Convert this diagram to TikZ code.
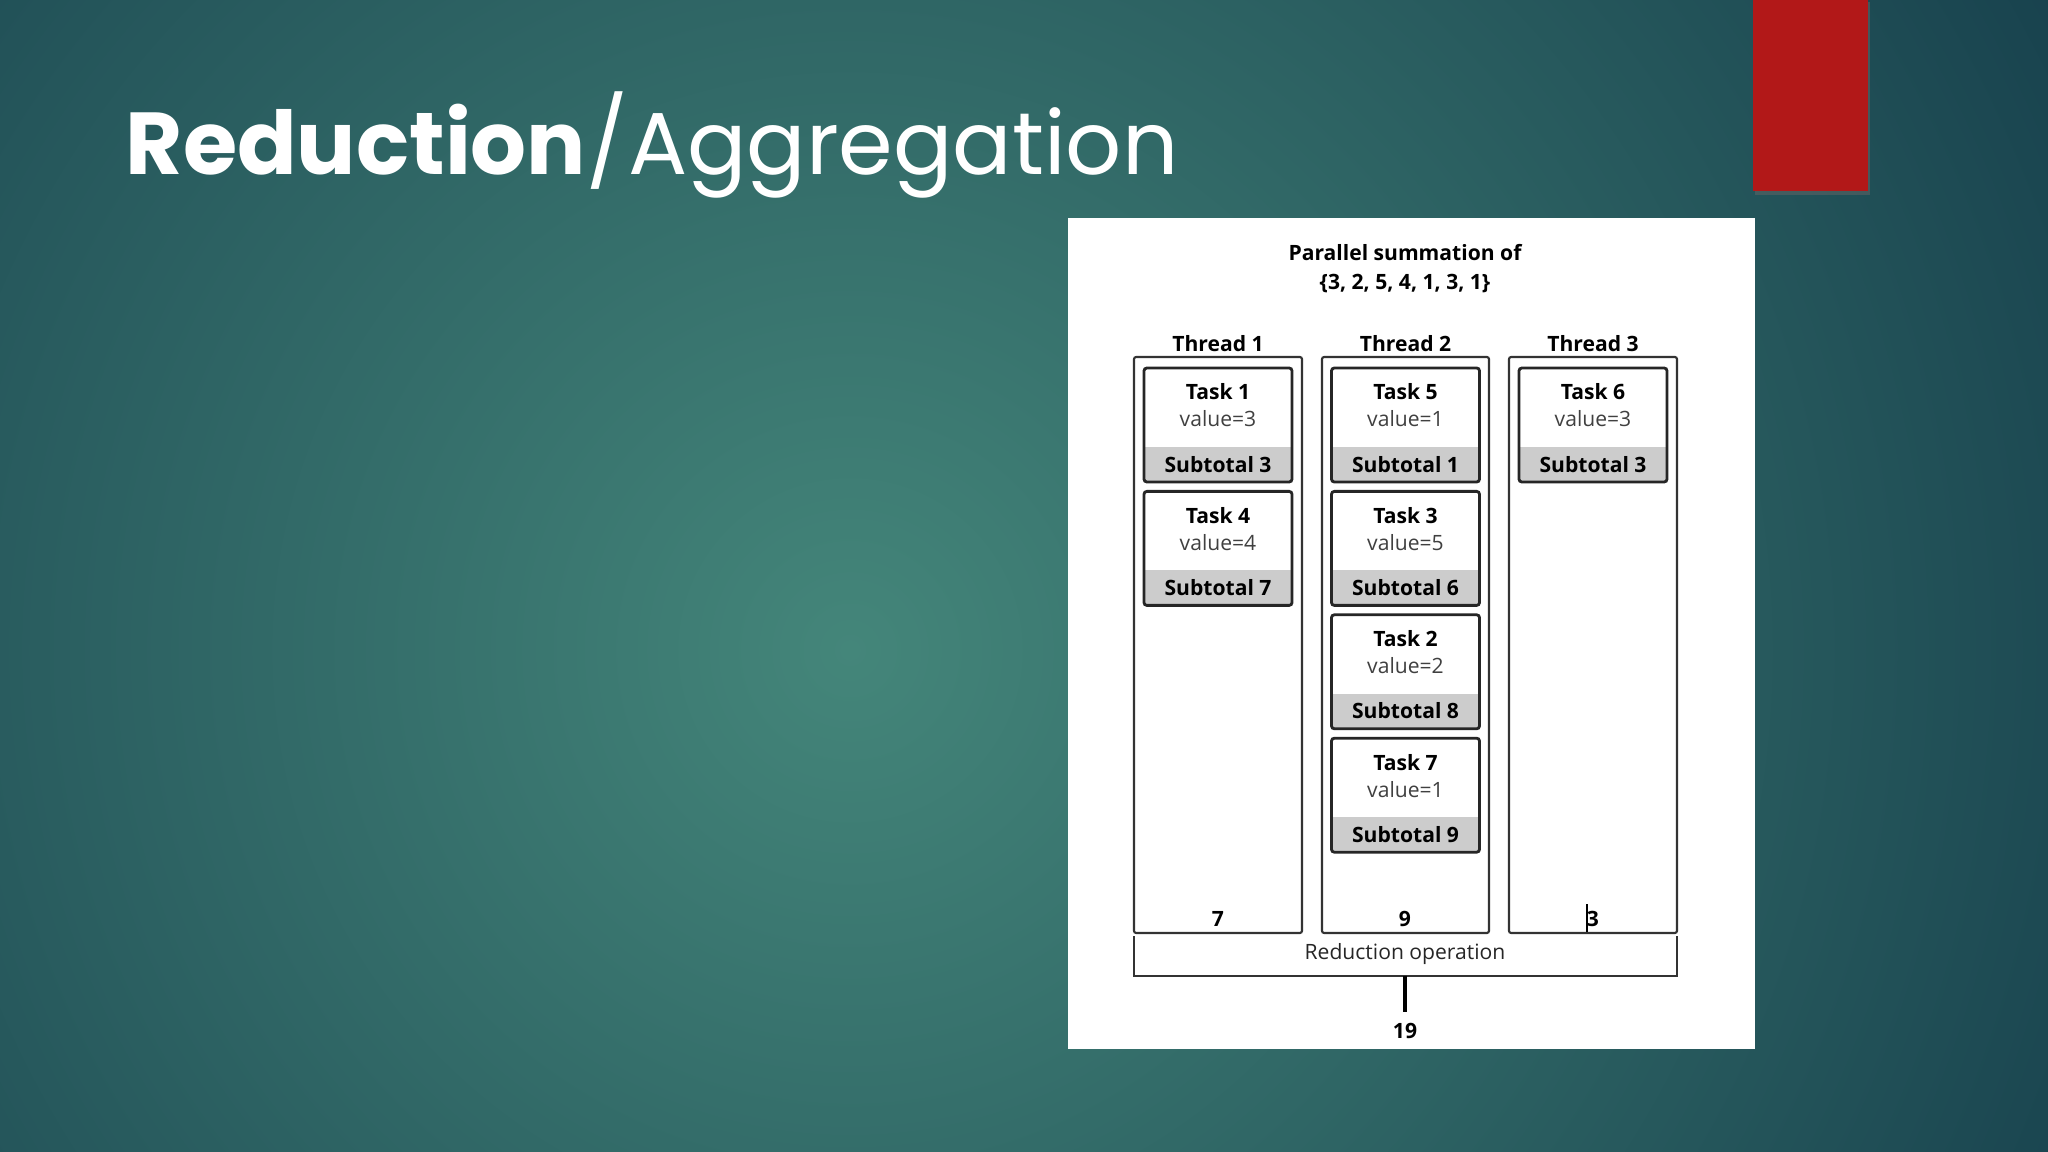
\documentclass[tikz,border=0pt]{standalone}
\usepackage{fontspec}
\setmainfont{Open Sans}
\newfontfamily\titlefont{Poppins}
\definecolor{bgin}{RGB}{68,134,122}
\definecolor{bgout}{RGB}{20,60,74}
\definecolor{redbar}{RGB}{178,24,24}
\begin{document}
\begin{tikzpicture}[x=0.01cm,y=-0.01cm,
  lbl/.style={font=\fontsize{6.0}{7}\selectfont\bfseries,inner sep=0pt,anchor=base},
  val/.style={font=\fontsize{6.0}{7}\selectfont,text=black!75,inner sep=0pt,anchor=base},
  col/.style={draw=black!80,line width=0.6pt,rounded corners=0.6pt},
  tbox/.style={draw=black!85,line width=0.8pt,rounded corners=0.8pt}]
\useasboundingbox (0,0) rectangle (2048,1152);
\fill[bgout] (0,0) rectangle (2048,1152);
\shade[inner color=bgin,outer color=bgout] (-650,-850) rectangle (2350,2150);
\fill[black!60,opacity=0.5] (1755,2) rectangle (1870,195);
\fill[redbar] (1753,0) rectangle (1868,191);
\node[anchor=base west,inner sep=0pt,text=white,font=\titlefont\fontsize{25}{30}\selectfont] (title) at (125,175) {\textbf{Reduction}/Aggregation};
\fill[white] (1068,218) rectangle (1755,1049);
\node[lbl] (h1) at (1405,261) {Parallel summation of};
\node[lbl] (h2) at (1405,290) {\{3, 2, 5, 4, 1, 3, 1\}};
% columns
\foreach \i/\xa/\xb in {1/1134/1302,2/1322/1489,3/1509/1677}{
  \draw[col] (\xa,357) rectangle (\xb,933);
  \node[lbl] (th\i) at ({(\xa+\xb)/2},352) {Thread \i};
}
% tasks
\foreach \c/\r/\t/\v/\s in {1/0/1/3/3,1/1/4/4/7,2/0/5/1/1,2/1/3/5/6,2/2/2/2/8,2/3/7/1/9,3/0/6/3/3}{
  \pgfmathsetmacro{\xa}{1144+(\c-1)*187.5}
  \pgfmathsetmacro{\ya}{368+\r*123.4}
  \fill[black!20] (\xa,\ya+79) rectangle (\xa+148,\ya+114);
  \draw[tbox] (\xa,\ya) rectangle (\xa+148,\ya+114);
  \node[lbl] (t\t) at (\xa+74,\ya+32) {Task \t};
  \node[val] (v\t) at (\xa+74,\ya+59) {value=\v};
  \node[lbl] (s\t) at (\xa+74,\ya+104) {Subtotal \s};
}
\node[lbl] (n1) at (1218,926) {7};
\node[lbl] (n2) at (1405,926) {9};
\node[lbl] (n3) at (1593,926) {3};
\draw[line width=0.6pt] (1587,904) -- (1587,932);
\draw[line width=0.8pt,black!80] (1134,936) -- (1134,976) -- (1677,976) -- (1677,936);
\node[val,text=black!85] (red) at (1405,959) {Reduction operation};
\coordinate (stemtop) at (1405,976);
\node[lbl] (res) at (1405,1038) {19};
\draw[line width=1.2pt] (stemtop) -- (1405,1012);
\end{tikzpicture}
\end{document}
